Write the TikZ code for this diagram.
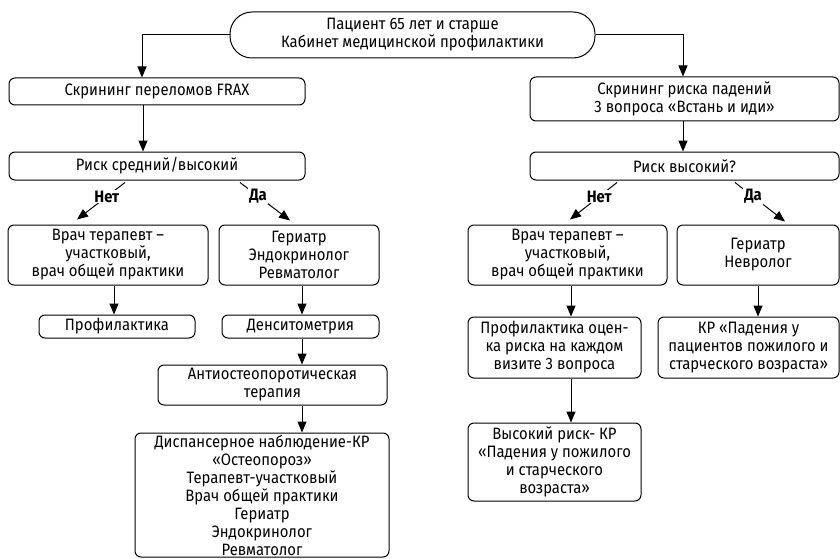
\documentclass[tikz,border=0pt]{standalone}
\usepackage{fontspec}
\setmainfont{Fira Sans}[FakeStretch=0.9]
\usetikzlibrary{arrows.meta}

\begin{document}
\begin{tikzpicture}[x=1pt, y=-1pt,
  box/.style={draw, line width=1pt, rounded corners=6pt, align=center,
    inner sep=0pt, font=\fontsize{16.5}{18}\selectfont},
  arr/.style={line width=1pt, -{Triangle[length=11pt, width=9pt]}},
  answer/.style={fill=white, inner sep=1pt, font=\fontsize{16.5}{18}\selectfont\bfseries}]

\useasboundingbox ( 0, 0 ) rectangle ( 840, 559 );

% Start
\node (top) at ( 412.5, 35 ) [box, rounded corners=22pt, minimum width=365pt, minimum height=46pt]
  {Пациент 65 лет и старше\\Кабинет медицинской профилактики};

% Fractures
\node (frax) at ( 157, 91.5 ) [box, minimum width=296pt, minimum height=27pt] {Скрининг переломов FRAX};
\node (riskL) at ( 157, 166 ) [box, minimum width=296pt, minimum height=28pt] {Риск средний/высокий};
\node (terL) at ( 108, 255 ) [box, minimum width=200pt, minimum height=60pt]
  {Врач терапевт –\\участковый,\\врач общей практики};
\node (gerL) at ( 299, 255 ) [box, minimum width=160pt, minimum height=60pt]
  {Гериатр\\Эндокринолог\\Ревматолог};
\node (profL) at ( 117, 326.5 ) [box, minimum width=156pt, minimum height=23pt] {Профилактика};
\node (dens) at ( 300.5, 326.5 ) [box, minimum width=157pt, minimum height=23pt] {Денситометрия};
\node (anti) at ( 272.5, 385 ) [box, minimum width=229pt, minimum height=40pt]
  {Антиостеопоротическая\\терапия};
\node (disp) at ( 262, 495 ) [box, minimum width=254pt, minimum height=124pt]
  {Диспансерное наблюдение-КР\\«Остеопороз»\\Терапевт-участковый\\Врач общей практики\\Гериатр\\Эндокринолог\\Ревматолог};

% Falls
\node (scrR) at ( 684.5, 99 ) [box, minimum width=309pt, minimum height=44pt]
  {Скрининг риска падений\\3 вопроса «Встань и иди»};
\node (riskR) at ( 684.5, 166 ) [box, minimum width=309pt, minimum height=28pt] {Риск высокий?};
\node (terR) at ( 567.5, 255 ) [box, minimum width=199pt, minimum height=60pt]
  {Врач терапевт –\\участковый,\\врач общей практики};
\node (gerR) at ( 758, 255 ) [box, minimum width=162pt, minimum height=60pt] {Гериатр\\Невролог};
\node (profR) at ( 554.5, 347.5 ) [box, minimum width=173pt, minimum height=61pt]
  {Профилактика оцен-\\ка риска на каждом\\визите 3 вопроса};
\node (kr) at ( 748.5, 347.5 ) [box, minimum width=181pt, minimum height=61pt]
  {КР «Падения у\\пациентов пожилого и\\старческого возраста»};
\node (high) at ( 554.5, 462 ) [box, minimum width=173pt, minimum height=78pt]
  {Высокий риск- КР\\«Падения у пожилого\\и старческого\\возраста»};

% Arrows, left
\draw [arr] (top.west) -| ([xshift=-15pt]frax.north);
\draw [arr] ([xshift=-14pt]frax.south) -- ([xshift=-14pt]riskL.north);
\draw [arr] ([xshift=-32pt, yshift=-2pt]riskL.south) -- node [answer, pos=0.38] {Нет} ([xshift=-31pt, yshift=5pt]terL.north);
\draw [arr] ([xshift=83pt, yshift=-2pt]riskL.south) -- node [answer, pos=0.36] {Да} ([xshift=-9pt, yshift=4pt]gerL.north);
\draw [arr] ([xshift=6pt]terL.south) -- ([xshift=-3pt]profL.north);
\draw [arr] ([xshift=3pt]gerL.south) -- ([xshift=1.5pt]dens.north);
\draw [arr] ([xshift=1.5pt]dens.south) -- ([xshift=29.5pt]anti.north);
\draw [arr] ([xshift=29.5pt]anti.south) -- ([xshift=40pt]disp.north);

% Arrows, right
\draw [arr] (top.east) -| ([xshift=-1.5pt]scrR.north);
\draw [arr] ([xshift=-1.5pt]scrR.south) -- ([xshift=-1.5pt]riskR.north);
\draw [arr] ([xshift=-67.5pt, yshift=-2pt]riskR.south) -- node [answer, pos=0.38] {Нет} ([xshift=2.5pt, yshift=5pt]terR.north);
\draw [arr] ([xshift=50.5pt, yshift=-2pt]riskR.south) -- node [answer, pos=0.36] {Да} ([xshift=27pt, yshift=3pt]gerR.north);
\draw [arr] ([xshift=3.5pt]terR.south) -- ([xshift=16.5pt]profR.north);
\draw [arr] (gerR.south) -- ([xshift=9.5pt]kr.north);
\draw [arr] ([xshift=16.5pt]profR.south) -- ([xshift=16.5pt]high.north);

\end{tikzpicture}
\end{document}
